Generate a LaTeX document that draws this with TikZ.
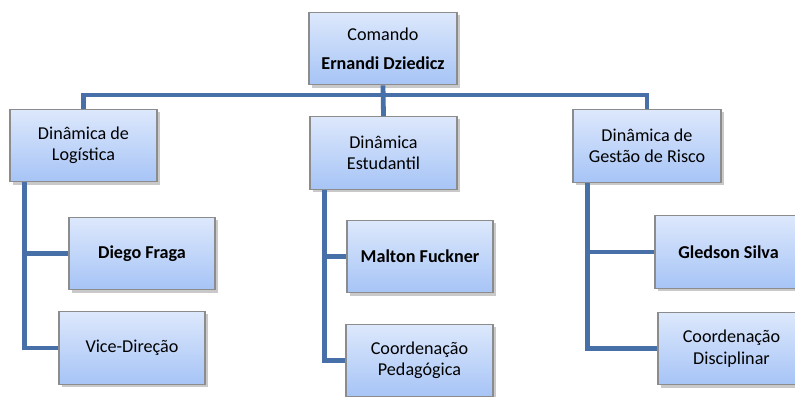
\documentclass[tikz,border=0pt]{standalone}
\usepackage{fontspec}
\setmainfont{Carlito}
\usetikzlibrary{shadows,calc}
\definecolor{linkblue}{RGB}{72,112,168}
\definecolor{boxtop}{RGB}{221,232,252}
\definecolor{boxbot}{RGB}{166,196,246}
\definecolor{boxedge}{RGB}{140,140,140}
\begin{document}
\begin{tikzpicture}[x=0.75pt,y=-0.75pt,
  orgbox/.style={draw=boxedge, line width=0.8pt, top color=boxtop, bottom color=boxbot,
    minimum width=#1*0.75pt, minimum height=54.5pt, inner sep=0pt, align=center,
    font=\fontsize{13.6}{16}\selectfont,
    drop shadow={shadow xshift=2pt, shadow yshift=-2pt, opacity=0.35, fill=black!60}},
  orgbox/.default=147,
  link/.style={draw=linkblue, line width=3.6pt, line join=miter, line cap=rect}]
\useasboundingbox (0,0) rectangle (795,396);
\fill[white] (0,0) rectangle (795,396);
% nodes
\node[orgbox=148] (cmd) at (383,48.5) {Comando\\[6pt]\textbf{Ernandi Dziedicz}};
\node[orgbox] (log) at (83.5,145.5) {Dinâmica de\\Logística};
\node[orgbox] (est) at (383.5,153) {Dinâmica\\Estudantil};
\node[orgbox=148] (ges) at (647,146) {Dinâmica de\\Gestão de Risco};
\node[orgbox=146] (diego) at (142,253.5) {\textbf{Diego Fraga}};
\node[orgbox=146] (vice) at (132,348) {Vice-Direção};
\node[orgbox=146] (malton) at (420,256.5) {\textbf{Malton Fuckner}};
\node[orgbox] (pedag) at (419.5,360.5) {Coordenação\\Pedagógica};
\node[orgbox] (gled) at (728.5,252) {\textbf{Gledson Silva}};
\node[orgbox] (disc) at (731.5,348.5) {Coordenação\\Disciplinar};
% connectors
\coordinate (bus) at (383,95);
\draw[link, line cap=butt] (cmd.south) -- (est.north);
\draw[link, line cap=butt] (log.north) |- (bus) -| (ges.north);
\coordinate (la) at ($(log.south west)+(15,0)$);
\coordinate (ma) at ($(est.south west)+(15,0)$);
\coordinate (ra) at ($(ges.south west)+(15,0)$);
\draw[link, line cap=butt] (la) |- (vice.west);
\draw[link, line cap=butt] (la |- diego.west) -- (diego.west);
\draw[link, line cap=butt] (ma) |- (pedag.west);
\draw[link, line cap=butt] (ma |- malton.west) -- (malton.west);
\draw[link, line cap=butt] (ra) |- (disc.west);
\draw[link, line cap=butt] (ra |- gled.west) -- (gled.west);
\end{tikzpicture}
\end{document}
